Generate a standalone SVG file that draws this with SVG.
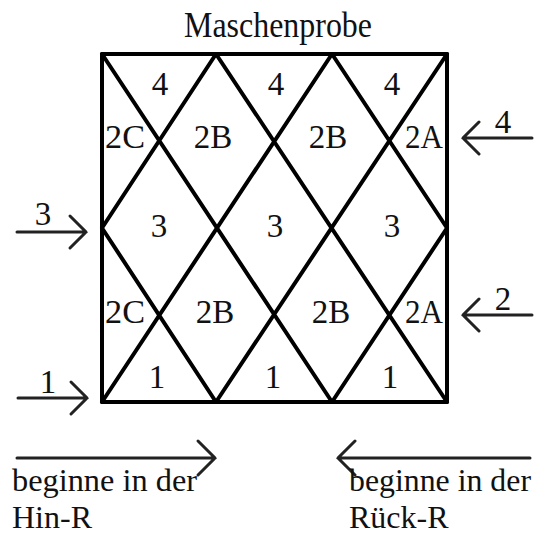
<svg xmlns="http://www.w3.org/2000/svg" width="544" height="536" viewBox="0 0 544 536">
<style>
text{font-family:"Liberation Serif","DejaVu Serif",serif;fill:#111}
.n{font-size:33px;text-anchor:middle}
.g{stroke:#000;stroke-width:4;fill:none;stroke-linecap:round;stroke-linejoin:round}
.a{stroke:#222;stroke-width:3;fill:none;stroke-linecap:round}
</style>
<rect width="544" height="536" fill="#fff"/>
<text x="278" y="37" font-size="35" text-anchor="middle" textLength="188" lengthAdjust="spacingAndGlyphs">Maschenprobe</text>
<g id="grid">
<rect class="g" x="102" y="54" width="345" height="348"/>
<path class="g" d="M102 54L332 402M216 54L447 402M332 54L447 228M102 228L216 402M447 54L216 402M332 54L102 402M216 54L102 228M447 228L332 402"/>
</g>
<g id="labels">
<text class="n" x="160" y="95">4</text>
<text class="n" x="276" y="95">4</text>
<text class="n" x="392" y="95">4</text>
<text class="n" x="125" y="148" textLength="40" lengthAdjust="spacingAndGlyphs">2C</text>
<text class="n" x="213" y="148">2B</text>
<text class="n" x="328" y="148">2B</text>
<text class="n" x="424" y="148" textLength="38" lengthAdjust="spacingAndGlyphs">2A</text>
<text class="n" x="159" y="237">3</text>
<text class="n" x="275" y="237">3</text>
<text class="n" x="392" y="237">3</text>
<text class="n" x="125" y="323" textLength="40" lengthAdjust="spacingAndGlyphs">2C</text>
<text class="n" x="215" y="323">2B</text>
<text class="n" x="331" y="323">2B</text>
<text class="n" x="424" y="323" textLength="38" lengthAdjust="spacingAndGlyphs">2A</text>
<text class="n" x="157" y="388">1</text>
<text class="n" x="273" y="388">1</text>
<text class="n" x="390" y="388">1</text>
</g>
<g id="connectors">
<path class="a" d="M17 232H86M70 216L86 232L70 248"/>
<path class="a" d="M18 398H87M71 382L87 398L71 414"/>
<path class="a" d="M532 138H463M479 122L463 138L479 154"/>
<path class="a" d="M532 315H463M479 299L463 315L479 331"/>
<path class="a" d="M17 458H215M198 441L215 458L198 475"/>
<path class="a" d="M530 458H338M355 441L338 458L355 475"/>
</g>
<g id="side-labels">
<text class="n" x="43" y="225">3</text>
<text class="n" x="48" y="393">1</text>
<text class="n" x="503" y="133">4</text>
<text class="n" x="503" y="310">2</text>
</g>
<g id="notes" font-size="32">
<text x="12" y="491" textLength="185" lengthAdjust="spacingAndGlyphs">beginne in der</text>
<text x="12" y="528">Hin-R</text>
<text x="349" y="491" textLength="182" lengthAdjust="spacingAndGlyphs">beginne in der</text>
<text x="349" y="528">Rück-R</text>
</g>
</svg>
